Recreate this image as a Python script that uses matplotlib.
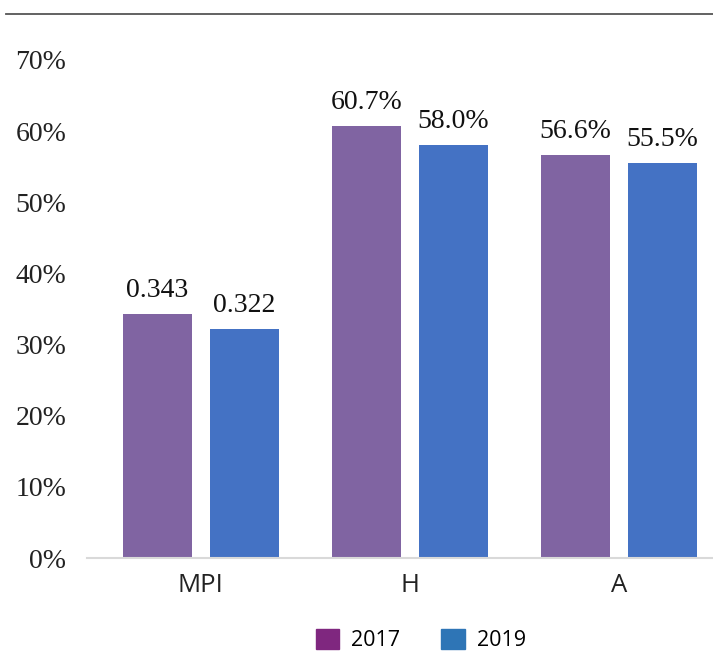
import matplotlib.pyplot as plt
import numpy as np
from matplotlib.lines import Line2D
from matplotlib.patches import Patch

categories = ['MPI', 'H', 'A']
years = ['2017', '2019']
values_2017 = [0.343, 0.607, 0.566]
values_2019 = [0.322, 0.580, 0.555]
labels_2017 = ['0.343', '60.7%', '56.6%']
labels_2019 = ['0.322', '58.0%', '55.5%']

bar_purple = '#8064A2'
bar_blue = '#4472C4'
legend_purple = '#7F277F'
legend_blue = '#2E75B6'

serif = ['Liberation Serif', 'DejaVu Serif']
sans = ['Open Sans', 'DejaVu Sans']

fig = plt.figure(figsize=(7.13, 6.71), dpi=100)
ax = fig.add_axes([0.122, 0.1684, 0.878, 0.7422])

x = np.arange(len(categories))
w = 0.33
off = 0.208
b1 = ax.bar(x - off, values_2017, w, color=bar_purple)
b2 = ax.bar(x + off, values_2019, w, color=bar_blue)

for bars, labs in ((b1, labels_2017), (b2, labels_2019)):
    for rect, lab in zip(bars, labs):
        ax.annotate(lab, (rect.get_x() + rect.get_width() / 2, rect.get_height()),
                    xytext=(0, 8), textcoords='offset points',
                    ha='center', va='bottom', fontsize=20, family=serif,
                    color='#111111')

ax.set_ylim(0, 0.7)
ax.set_xlim(-0.545, 2.45)
ax.set_yticks(np.arange(0, 0.71, 0.1))
ax.set_yticklabels([f'{int(round(v * 100))}%' for v in np.arange(0, 0.71, 0.1)],
                   family=serif, fontsize=20, color='#222222')
ax.set_xticks(x)
ax.set_xticklabels(categories, family=sans, fontsize=18.5, color='#222222')
ax.tick_params(axis='both', length=0)
ax.tick_params(axis='y', pad=15)
ax.tick_params(axis='x', pad=11)
for s in ['top', 'right', 'left']:
    ax.spines[s].set_visible(False)
ax.spines['bottom'].set_color('#D9D9D9')
ax.spines['bottom'].set_linewidth(1.5)

fig.add_artist(Line2D([0.008, 1.0], [0.979, 0.979], color='#555555',
                      linewidth=1.3, transform=fig.transFigure))

handles = [Patch(color=legend_purple, label=years[0]),
           Patch(color=legend_blue, label=years[1])]
fig.legend(handles=handles, loc='center', bbox_to_anchor=(0.59, 0.046),
           ncol=2, frameon=False, prop={'family': sans, 'size': 15.5},
           handlelength=1.1, handleheight=1.1, columnspacing=1.9,
           handletextpad=0.55)

fig.savefig('out.png', dpi=100)
